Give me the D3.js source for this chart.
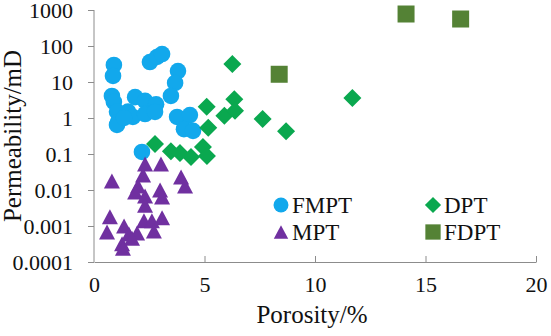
<!DOCTYPE html>
<html>
  <head>
    <meta charset="utf-8">
    <title>Porosity vs permeability</title>
    <script src="https://cdn.jsdelivr.net/npm/d3@7"></script>
    <style>
      body { margin: 0; background: #fff; }
      svg text { font-family: "Times New Roman", "Liberation Serif", Tinos, Times, serif; fill: #111; }
      .axis path, .axis line { stroke: #8c8c8c; }
    </style>
  </head>
  <body>
    <svg id="chart" width="551" height="336"></svg>
    <script>
      // FMPT (blue circles)
      const fmptPorosity = [0.90, 0.86, 2.53, 2.85, 3.08, 3.80, 3.67, 3.48, 0.81, 0.90, 1.86, 2.31, 2.81,
        1.04, 1.54, 1.09, 1.76, 2.31, 2.76, 3.76, 4.34, 4.07, 4.48, 2.17, 1.04, 1.36];
      const fmptPerm = [29.7, 14.7, 35.9, 49.5, 59.9, 20.2, 9.4, 4.1, 4.1, 2.8, 3.8, 3.0, 2.4,
        1.5, 1.5, 0.77, 1.07, 1.29, 1.47, 1.07, 1.21, 0.49, 0.44, 0.114, 0.64, 1.0];

      // DPT (green diamonds)
      const dptPorosity = [2.76, 3.48, 3.89, 4.39, 4.93, 5.11, 5.17, 5.10, 5.90, 6.35, 6.38, 6.26, 7.63, 8.69, 11.69];
      const dptPerm = [0.19, 0.12, 0.107, 0.082, 0.157, 0.088, 0.54, 2.06, 1.16, 3.3, 1.6, 31.6, 0.94, 0.43, 3.6];

      // MPT (purple triangles)
      const mptPorosity = [0.81, 2.31, 3.03, 2.22, 1.99, 1.86, 2.31, 2.31, 2.99, 3.08, 3.94, 4.12,
        0.72, 0.59, 1.36, 1.58, 1.95, 1.27, 1.31, 2.26, 2.62, 3.08, 2.71, 1.72];
      const mptPerm = [0.0178, 0.0527, 0.0527, 0.0261, 0.0129, 0.0088, 0.0068, 0.0038, 0.010, 0.0064, 0.023, 0.0129,
        0.0018, 0.00068, 0.0010, 0.00060, 0.00064, 0.00032, 0.00024, 0.0014, 0.0014, 0.0017, 0.00073, 0.00046];

      // FDPT (olive squares)
      const fdptPorosity = [8.38, 14.12, 16.59];
      const fdptPerm = [16.4, 774, 562];

      const xTicks = [0, 5, 10, 15, 20];
      const yTicks = [0.0001, 0.001, 0.01, 0.1, 1, 10, 100, 1000];
      const yTickLabels = ["0.0001", "0.001", "0.01", "0.1", "1", "10", "100", "1000"];

      const colors = { FMPT: "#12a8ec", DPT: "#0aa84f", MPT: "#7030a0", FDPT: "#548235" };

      const svg = d3.select("#chart");
      const x = d3.scaleLinear().domain([0, 20]).range([94, 536]);
      const y = d3.scaleLog().domain([0.0001, 1000]).range([262, 10]);

      // y axis, ticks pointing out
      const yAxis = svg.append("g")
        .attr("class", "axis")
        .attr("transform", "translate(94,0)")
        .call(d3.axisLeft(y).tickValues(yTicks).tickSize(6).tickPadding(15)
          .tickFormat((d, i) => yTickLabels[i]));
      yAxis.attr("font-family", null);
      yAxis.selectAll("text").style("font-size", "22px").attr("fill", "#111");
      yAxis.select(".domain").attr("d", "M0,10V262");

      // x axis, ticks pointing in
      const xAxis = svg.append("g")
        .attr("class", "axis")
        .attr("transform", "translate(0,262)")
        .call(d3.axisBottom(x).tickValues(xTicks).tickSizeInner(-6).tickSizeOuter(0));
      xAxis.attr("font-family", null);
      xAxis.selectAll("text").style("font-size", "22px").attr("fill", "#111")
        .attr("y", 30).attr("dy", 0);
      xAxis.selectAll(".tick").filter(d => d === 0).select("line").remove();

      // axis titles
      svg.append("text")
        .attr("x", 312).attr("y", 323)
        .attr("text-anchor", "middle")
        .style("font-size", "25px")
        .text("Porosity/%");
      svg.append("text")
        .attr("transform", "translate(21,136) rotate(-90)")
        .attr("text-anchor", "middle")
        .style("font-size", "25px")
        .text("Permeability/mD");

      // marker shapes
      const circlePath = "M8.3,0A8.3,8.3 0 1,1 -8.3,0A8.3,8.3 0 1,1 8.3,0Z";
      const diamondPath = "M0,-9L9,0L0,9L-9,0Z";
      const trianglePath = "M0,-7.5L8,7.5L-8,7.5Z";
      const squarePath = "M-8.5,-8.5H8.5V8.5H-8.5Z";

      function drawSeries(xs, ys, path, color) {
        svg.append("g")
          .selectAll("path")
          .data(d3.zip(xs, ys))
          .join("path")
          .attr("d", path)
          .attr("transform", d => `translate(${x(d[0])},${y(d[1])})`)
          .attr("fill", color);
      }

      drawSeries(fmptPorosity, fmptPerm, circlePath, colors.FMPT);
      drawSeries(dptPorosity, dptPerm, diamondPath, colors.DPT);
      drawSeries(mptPorosity, mptPerm, trianglePath, colors.MPT);
      drawSeries(fdptPorosity, fdptPerm, squarePath, colors.FDPT);

      // legend
      const legend = [
        { name: "FMPT", path: circlePath, x: 281, y: 205 },
        { name: "DPT", path: diamondPath, x: 433, y: 205 },
        { name: "MPT", path: trianglePath, x: 281, y: 232 },
        { name: "FDPT", path: squarePath, x: 433, y: 232 }
      ];
      const lg = svg.append("g").selectAll("g").data(legend).join("g")
        .attr("transform", d => `translate(${d.x},${d.y})`);
      lg.append("path")
        .attr("d", d => d.path)
        .attr("transform", "scale(0.9)")
        .attr("fill", d => colors[d.name]);
      lg.append("text")
        .attr("x", 11).attr("y", 8)
        .style("font-size", "23px")
        .text(d => d.name);
    </script>
  </body>
</html>
